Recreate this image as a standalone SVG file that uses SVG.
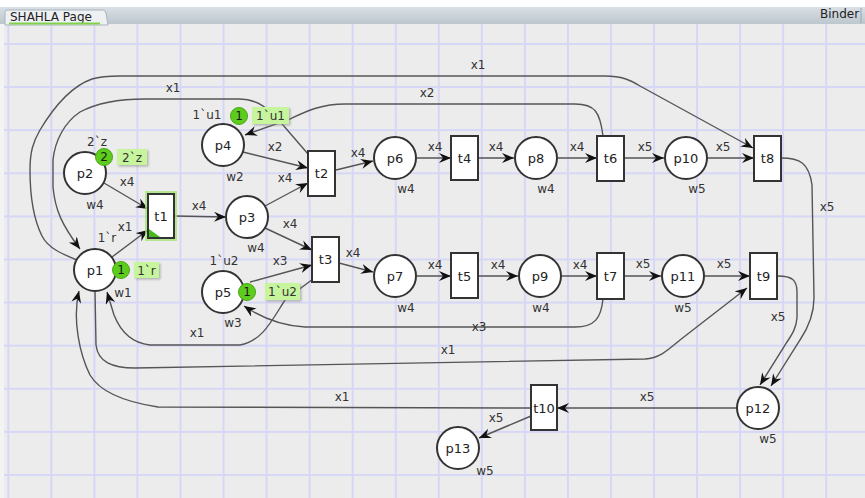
<svg xmlns="http://www.w3.org/2000/svg" width="865" height="498" viewBox="0 0 865 498">
<defs>
<pattern id="grid" patternUnits="userSpaceOnUse" x="7.3" y="43" width="43.05" height="43.1">
<path d="M0,1 H43.05 M1,0 V43.1" fill="none" stroke="#d6d6f6" stroke-width="2"/>
</pattern>
<linearGradient id="hdr" x1="0" y1="0" x2="0" y2="1">
<stop offset="0" stop-color="#d9e0e6"/>
<stop offset="1" stop-color="#bcc6cd"/>
</linearGradient>
<marker id="ah" markerUnits="userSpaceOnUse" markerWidth="14" markerHeight="12" refX="12" refY="5" orient="auto" viewBox="0 0 14 12">
<path d="M0,0 L12,5 L0,10 L4,5 Z" fill="#111"/>
</marker>
<filter id="sh" x="-20%" y="-20%" width="150%" height="160%">
<feDropShadow dx="1.5" dy="1.5" stdDeviation="0.8" flood-color="#888" flood-opacity="0.6"/>
</filter>
</defs>
<style>
text{font-family:"DejaVu Sans","Liberation Sans",sans-serif;fill:#333}
.lbl{font-size:12px}
.nm{font-size:13px;text-anchor:middle;fill:#222}
.c{text-anchor:middle}
.pl{fill:#fff;stroke:#333;stroke-width:2}
.tr{fill:#fff;stroke:#333;stroke-width:2}
.arc{fill:none;stroke:#555;stroke-width:1.4}
.arr{marker-end:url(#ah)}
.tok{fill:#5dcc1c;stroke:#48a814;stroke-width:1}
.tokt{font-size:12px;text-anchor:middle;fill:#1a1a1a}
.box{fill:#c6f59e;filter:url(#sh)}
</style>

<rect x="0" y="0" width="865" height="498" fill="#ececec"/>
<rect x="0" y="24" width="865" height="474" fill="url(#grid)"/>
<rect x="0" y="24" width="4" height="474" fill="#f3f3f3"/>
<rect x="0" y="0" width="865" height="7" fill="#ffffff"/>
<rect x="0" y="7" width="865" height="17" fill="url(#hdr)"/>
<path d="M5,25 V12 Q5,10 7,10 H103 Q105,10 106,13 L108,25 Z" fill="#eef1f3" stroke="#a9b3ba" stroke-width="1"/>
<text x="10" y="21" style="font-size:12px;fill:#222">SHAHLA Page</text>
<line x1="9" y1="23.5" x2="100" y2="23.5" stroke="#7fd24a" stroke-width="2"/>
<text x="820" y="18" style="font-size:12px;fill:#222">Binder</text>
<line x1="861" y1="8" x2="861" y2="23" stroke="#9aa4ab" stroke-width="1"/>

<g id="arcs">
<path class="arc arr" d="M104,183 L148,209"/>
<path class="arc arr" d="M112,257 L148,230"/>
<path class="arc arr" d="M174,216 L226,217"/>
<path class="arc arr" d="M243,152 L308,168"/>
<path class="arc arr" d="M265,206 L308,183"/>
<path class="arc arr" d="M265,228 L312,250"/>
<path class="arc arr" d="M250,282 L312,265"/>
<path class="arc arr" d="M336,170 L373,161"/>
<path class="arc arr" d="M417,158 L451,158"/>
<path class="arc arr" d="M478,158 L514,158"/>
<path class="arc arr" d="M558,158 L597,158"/>
<path class="arc arr" d="M624,158 L664,158"/>
<path class="arc arr" d="M708,158 L754,158"/>
<path class="arc arr" d="M339,263 L373,272"/>
<path class="arc arr" d="M417,276 L451,276"/>
<path class="arc arr" d="M478,276 L518,276"/>
<path class="arc arr" d="M562,276 L597,276"/>
<path class="arc arr" d="M624,276 L661,276"/>
<path class="arc arr" d="M705,276 L750,276"/>
<path class="arc arr" d="M781,158 C800,158 809,163 812,185 L814,298 C814,314 808,328 800,340 L771,386"/>
<path class="arc arr" d="M778,276 C792,276 797,280 797,292 L797,318 C796,328 793,333 787,342 L760,385"/>
<path class="arc arr" d="M737,408 L557,408"/>
<path class="arc arr" d="M531,416 L479,438"/>
<path class="arc arr" d="M531,408 L158,407 C125,402 100,392 90,375 C80,355 72,320 79,291"/>
<path class="arc arr" d="M95,291 L96,345 C98,362 112,368 135,368 L645,359 C660,358 668,350 680,340 L747,288"/>
<path class="arc arr" d="M313,279 L285,300 C271,322 262,341 240,345 L150,345 C131,343 120,330 114,315 L107,292"/>
<path class="arc arr" d="M603,299 C601,318 595,327 575,327 L305,327 C285,326 265,320 244,306"/>
<path class="arc arr" d="M603,136 C600,112 595,104 575,104 L345,104 C320,104 305,112 290,119 L245,135"/>
<path class="arc arr" d="M308,154 L283,125 C268,108 258,99 238,99 L145,99 C115,99 95,104 80,112 C65,122 55,140 53,160 L53,187 C55,210 62,225 80,249"/>
<path class="arc arr" d="M77,260 C62,254 48,248 42,236 C33,218 30,195 30,170 C30,152 33,142 40,130 C55,105 72,86 92,79 C102,76 110,76 120,76 L605,76 C622,76 630,80 640,86 L753,148"/>
<text class="lbl c" x="127" y="186">x4</text>
<text class="lbl c" x="125" y="231">x1</text>
<text class="lbl c" x="199" y="210">x4</text>
<text class="lbl c" x="275" y="151">x2</text>
<text class="lbl c" x="285" y="182">x4</text>
<text class="lbl c" x="290" y="228">x4</text>
<text class="lbl c" x="280" y="265">x3</text>
<text class="lbl c" x="358" y="157">x4</text>
<text class="lbl c" x="435" y="151">x4</text>
<text class="lbl c" x="496" y="151">x4</text>
<text class="lbl c" x="577" y="151">x4</text>
<text class="lbl c" x="645" y="151">x5</text>
<text class="lbl c" x="723" y="151">x5</text>
<text class="lbl c" x="353" y="257">x4</text>
<text class="lbl c" x="435" y="269">x4</text>
<text class="lbl c" x="498" y="269">x4</text>
<text class="lbl c" x="580" y="269">x4</text>
<text class="lbl c" x="643" y="268">x5</text>
<text class="lbl c" x="724" y="268">x5</text>
<text class="lbl c" x="478" y="69">x1</text>
<text class="lbl c" x="173" y="92">x1</text>
<text class="lbl c" x="427" y="97">x2</text>
<text class="lbl c" x="197" y="337">x1</text>
<text class="lbl c" x="448" y="354">x1</text>
<text class="lbl c" x="342" y="401">x1</text>
<text class="lbl c" x="647" y="401">x5</text>
<text class="lbl c" x="496" y="422">x5</text>
<text class="lbl c" x="479" y="331">x3</text>
<text class="lbl c" x="827" y="211">x5</text>
<text class="lbl c" x="778" y="321">x5</text>
</g>

<g id="p1">
<circle class="pl" cx="95" cy="270" r="21"/>
<text class="nm" x="95" y="275">p1</text>
<text class="lbl c" x="107" y="242">1`r</text>
<text class="lbl c" x="123" y="297">w1</text>
<circle class="tok" cx="121" cy="270" r="8.5"/>
<text class="tokt" x="121" y="274">1</text>
<rect class="box" x="134" y="262" width="25" height="16"/>
<text class="lbl c" x="146.5" y="274.5">1`r</text>
</g>
<g id="p2">
<circle class="pl" cx="85" cy="173" r="21"/>
<text class="nm" x="85" y="178">p2</text>
<text class="lbl c" x="97" y="146">2`z</text>
<text class="lbl c" x="95" y="209">w4</text>
<circle class="tok" cx="104" cy="157" r="8.5"/>
<text class="tokt" x="104" y="161">2</text>
<rect class="box" x="117" y="149" width="30" height="16"/>
<text class="lbl c" x="132" y="161.5">2`z</text>
</g>
<g id="p3">
<circle class="pl" cx="247" cy="217" r="21"/>
<text class="nm" x="247" y="222">p3</text>
<text class="lbl c" x="256" y="252">w4</text>
</g>
<g id="p4">
<circle class="pl" cx="223" cy="145" r="21"/>
<text class="nm" x="223" y="150">p4</text>
<text class="lbl c" x="207" y="119">1`u1</text>
<text class="lbl c" x="235" y="181">w2</text>
<circle class="tok" cx="239" cy="116" r="8.5"/>
<text class="tokt" x="239" y="120">1</text>
<rect class="box" x="252" y="107" width="37" height="17"/>
<text class="lbl c" x="270.5" y="120">1`u1</text>
</g>
<g id="p5">
<circle class="pl" cx="223" cy="292" r="21"/>
<text class="nm" x="223" y="297">p5</text>
<text class="lbl c" x="224" y="265">1`u2</text>
<text class="lbl c" x="233" y="327">w3</text>
<circle class="tok" cx="247" cy="292" r="8.5"/>
<text class="tokt" x="247" y="296">1</text>
<rect class="box" x="265" y="283" width="35" height="17"/>
<text class="lbl c" x="282.5" y="296">1`u2</text>
</g>
<g id="p6">
<circle class="pl" cx="395" cy="158" r="21"/>
<text class="nm" x="395" y="163">p6</text>
<text class="lbl c" x="406" y="193">w4</text>
</g>
<g id="p7">
<circle class="pl" cx="395" cy="276" r="21"/>
<text class="nm" x="395" y="281">p7</text>
<text class="lbl c" x="406" y="312">w4</text>
</g>
<g id="p8">
<circle class="pl" cx="536" cy="158" r="21"/>
<text class="nm" x="536" y="163">p8</text>
<text class="lbl c" x="546" y="193">w4</text>
</g>
<g id="p9">
<circle class="pl" cx="540" cy="276" r="21"/>
<text class="nm" x="540" y="281">p9</text>
<text class="lbl c" x="541" y="312">w4</text>
</g>
<g id="p10">
<circle class="pl" cx="686" cy="158" r="21"/>
<text class="nm" x="686" y="163">p10</text>
<text class="lbl c" x="697" y="193">w5</text>
</g>
<g id="p11">
<circle class="pl" cx="683" cy="276" r="21"/>
<text class="nm" x="683" y="281">p11</text>
<text class="lbl c" x="683" y="312">w5</text>
</g>
<g id="p12">
<circle class="pl" cx="758" cy="408" r="21"/>
<text class="nm" x="758" y="413">p12</text>
<text class="lbl c" x="768" y="443">w5</text>
</g>
<g id="p13">
<circle class="pl" cx="458" cy="448" r="21"/>
<text class="nm" x="458" y="453">p13</text>
<text class="lbl c" x="485" y="475">w5</text>
</g>

<g id="t1">
<rect x="148" y="194" width="26" height="44" fill="none" stroke="#a6e57a" stroke-width="6" opacity="0.8"/>
<rect class="tr" x="148" y="194" width="26" height="44"/>
<path d="M149,229 L149,237 L160,237 Z" fill="#46bb1e"/>
<text class="nm" x="161" y="221">t1</text>
</g>
<g id="t2">
<rect class="tr" x="308" y="151" width="27" height="45"/>
<text class="nm" x="321.5" y="178">t2</text>
</g>
<g id="t3">
<rect class="tr" x="312" y="237" width="27" height="45"/>
<text class="nm" x="325.5" y="264">t3</text>
</g>
<g id="t4">
<rect class="tr" x="451" y="136" width="27" height="44"/>
<text class="nm" x="464.5" y="163">t4</text>
</g>
<g id="t5">
<rect class="tr" x="451" y="253" width="27" height="45"/>
<text class="nm" x="464.5" y="281">t5</text>
</g>
<g id="t6">
<rect class="tr" x="597" y="136" width="27" height="45"/>
<text class="nm" x="610.5" y="163">t6</text>
</g>
<g id="t7">
<rect class="tr" x="597" y="253" width="27" height="46"/>
<text class="nm" x="610.5" y="281">t7</text>
</g>
<g id="t8">
<rect class="tr" x="754" y="136" width="27" height="45"/>
<text class="nm" x="767.5" y="163">t8</text>
</g>
<g id="t9">
<rect class="tr" x="750" y="253" width="27" height="46"/>
<text class="nm" x="763.5" y="281">t9</text>
</g>
<g id="t10">
<rect class="tr" x="531" y="385" width="26" height="45"/>
<text class="nm" x="544" y="413">t10</text>
</g>
</svg>
